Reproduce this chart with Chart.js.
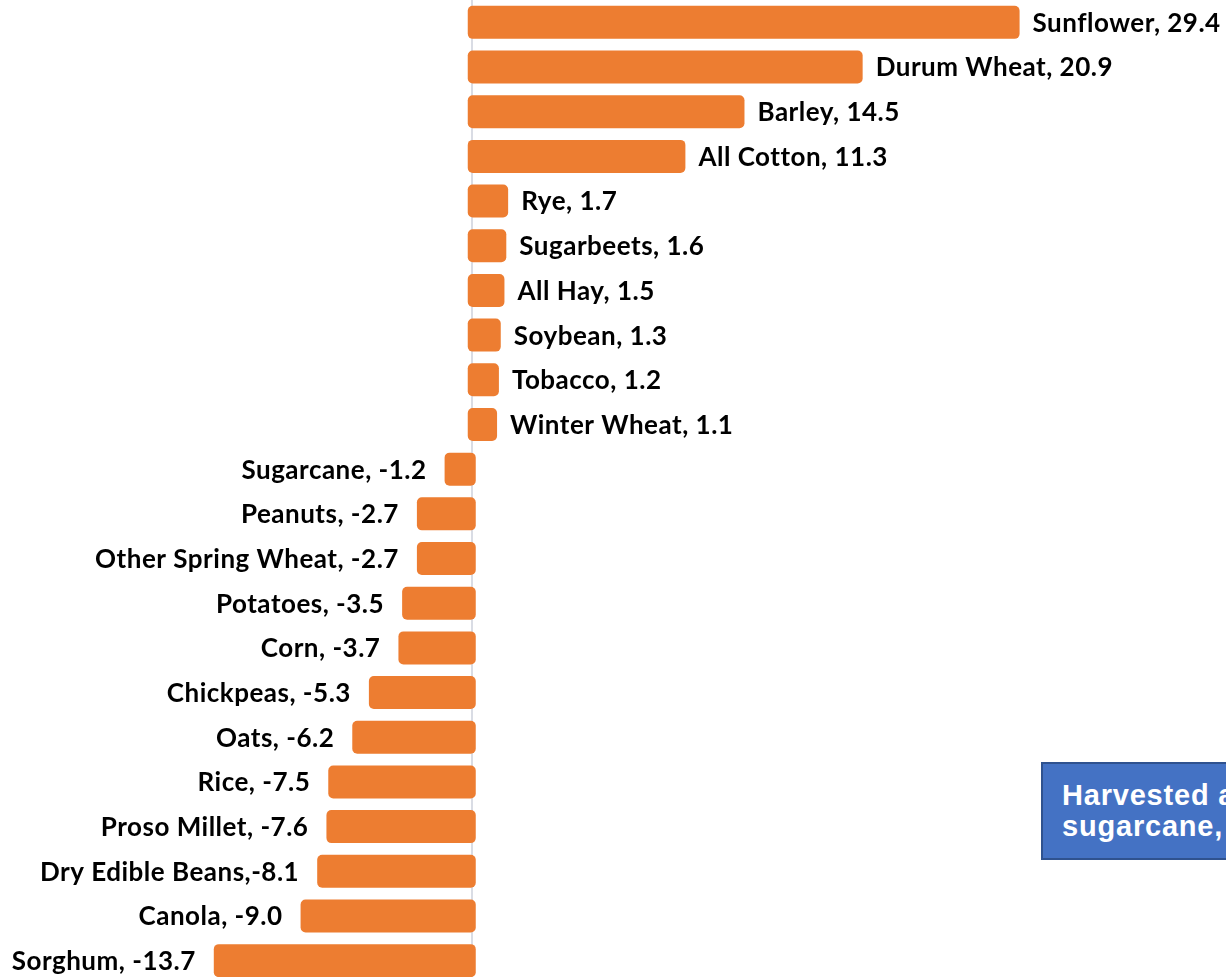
<!DOCTYPE html>
<html>
<head>
<meta charset="utf-8">
<script src="https://cdn.jsdelivr.net/npm/chart.js@4"></script>
<style>
  body { margin: 0; width: 1226px; height: 977px; overflow: hidden; position: relative; background: #fff; }
  #note {
    position: absolute; left: 1041px; top: 762px; width: 320px; height: 98px;
    background: #4472C4; border: 2px solid #2F528F;
    color: #fff; font: bold 29px "Liberation Sans", Arial, sans-serif; letter-spacing: 0.8px;
    line-height: 31px; white-space: nowrap; padding: 16px 0 0 19px; box-sizing: border-box;
  }
</style>
</head>
<body>
<canvas id="chart" width="1226" height="983"></canvas>
<div id="note">Harvested acreage<br>sugarcane, and</div>
<script>
// crops, top to bottom
const crops = ["Sunflower", "Durum Wheat", "Barley", "All Cotton", "Rye", "Sugarbeets", "All Hay",
  "Soybean", "Tobacco", "Winter Wheat", "Sugarcane", "Peanuts", "Other Spring Wheat", "Potatoes",
  "Corn", "Chickpeas", "Oats", "Rice", "Proso Millet", "Dry Edible Beans", "Canola", "Sorghum"];
// percent change
const change = [29.4, 20.9, 14.5, 11.3, 1.7, 1.6, 1.5, 1.3, 1.2, 1.1, -1.2, -2.7, -2.7, -3.5,
  -3.7, -5.3, -6.2, -7.5, -7.6, -8.1, -9.0, -13.7];
// one label in the original has no space after the comma
const labelSep = {"Dry Edible Beans": ","};

const ORANGE = "#ED7D31";

// "Name, value" beside the end of each bar
const barLabels = {
    id: "barLabels",
    afterDatasetsDraw(chart){
        const ctx = chart.ctx;
        const bars = chart.getDatasetMeta(0).data;
        ctx.save();
        ctx.font = "bold 26px Lato, sans-serif";
        ctx.letterSpacing = "0.5px";
        ctx.fillStyle = "#000";
        ctx.textBaseline = "middle";
        bars.forEach((bar, i) => {
            const v = change[i];
            const txt = crops[i] + (labelSep[crops[i]] || ", ") + v.toFixed(1);
            if(v >= 0){
                ctx.textAlign = "left";
                ctx.fillText(txt, bar.x + 18, bar.y + 1);
            } else {
                ctx.textAlign = "right";
                ctx.fillText(txt, bar.x - 23, bar.y + 1);
            }
        });
        ctx.restore();
    }
};

new Chart(document.getElementById("chart"), {
    type: "bar",
    data: {
        labels: crops,
        datasets: [{
            data: change,
            backgroundColor: ORANGE,
            borderWidth: 0,
            borderSkipped: false,
            borderRadius: {topLeft: 5, topRight: 5, bottomLeft: 5, bottomRight: 5},
            inflateAmount: 5,
            barThickness: 23
        }]
    },
    options: {
        indexAxis: "y",
        responsive: false,
        devicePixelRatio: 1,
        animation: false,
        layout: { padding: 0 },
        plugins: {
            legend: { display: false },
            tooltip: { enabled: false }
        },
        scales: {
            x: {
                min: -25.55,
                max: 40.85,
                z: 1,
                border: { display: false },
                ticks: { display: false, stepSize: 10, padding: 0 },
                grid: {
                    drawTicks: false,
                    lineWidth: 2,
                    color: c => c.tick && c.tick.value === 0 ? "#d9dce4" : "rgba(0,0,0,0)"
                }
            },
            y: { display: false }
        }
    },
    plugins: [barLabels]
});
</script>
</body>
</html>
